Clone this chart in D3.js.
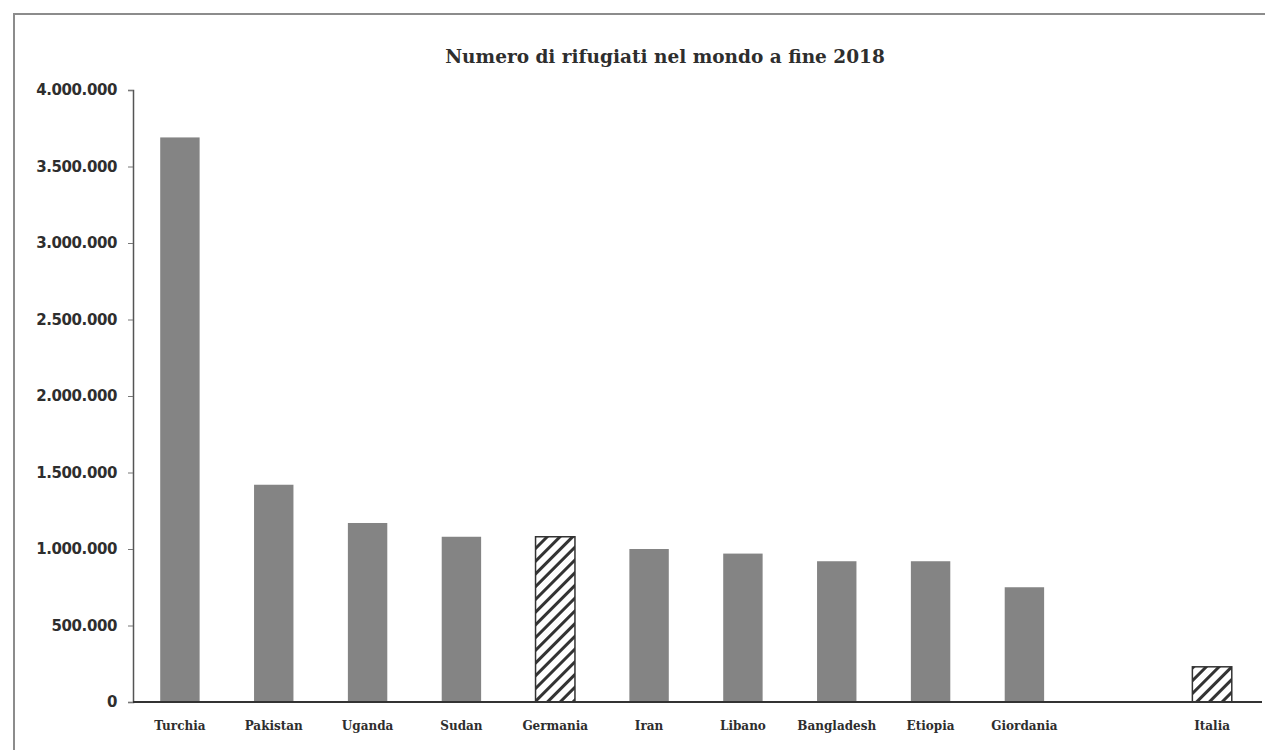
<!DOCTYPE html>
<html>
<head>
<meta charset="utf-8">
<script src="https://cdn.jsdelivr.net/npm/d3@7"></script>
<style>
  body { margin: 0; background: #fff; }
  svg { display: block; }
</style>
</head>
<body>
<svg id="chart" width="1265" height="750"></svg>
<script>
const TITLE = "Numero di rifugiati nel mondo a fine 2018";
const countries = ["Turchia", "Pakistan", "Uganda", "Sudan", "Germania", "Iran", "Libano", "Bangladesh", "Etiopia", "Giordania", "", "Italia"];
const refugees = [3690000, 1420000, 1170000, 1080000, 1080000, 1000000, 970000, 920000, 920000, 750000, null, 230000];
const hatched = ["Germania", "Italia"];
const yTicks = [0, 500000, 1000000, 1500000, 2000000, 2500000, 3000000, 3500000, 4000000];

const LEFT = 133;
const RIGHT = 1262;
const TOP = 90;
const BOTTOM = 702;

const BAR = "#848484";
const INK = "#2e2e2e";

const svg = d3.select("#chart");

// hatch pattern for the two highlighted bars
const defs = svg.append("defs");
const pat = defs.append("pattern")
  .attr("id", "hatch")
  .attr("patternUnits", "userSpaceOnUse")
  .attr("width", 9)
  .attr("height", 9)
  .attr("patternTransform", "rotate(45)");
pat.append("rect").attr("width", 9).attr("height", 9).attr("fill", "#fff");
pat.append("rect").attr("width", 3).attr("height", 9).attr("fill", "#333");

// outer frame (edge of the scanned page)
svg.append("rect")
  .attr("x", 14).attr("y", 14)
  .attr("width", 1280).attr("height", 760)
  .attr("fill", "none")
  .attr("stroke", "#8c8c8c")
  .attr("stroke-width", 2);

svg.append("text")
  .attr("x", 665)
  .attr("y", 63)
  .attr("text-anchor", "middle")
  .style("font-family", "'DejaVu Serif', serif")
  .style("font-weight", "bold")
  .style("font-size", "18.5px")
  .style("fill", INK)
  .text(TITLE);

const xScale = d3.scaleBand()
  .domain(countries.map((d, i) => i))
  .range([LEFT, 1259])
  .paddingInner(0.58)
  .paddingOuter(0.29);

const yScale = d3.scaleLinear()
  .domain([0, 4000000])
  .range([BOTTOM, TOP]);

const fmt = (d) => d3.format(",")(d).replace(/,/g, ".");

const yAxis = svg.append("g")
  .attr("transform", `translate(${LEFT}, 0)`)
  .call(d3.axisLeft(yScale).tickValues(yTicks).tickSize(5).tickPadding(11).tickFormat(fmt));
yAxis.select(".domain").attr("stroke", "#555").attr("stroke-width", 1.5);
yAxis.selectAll(".tick line").attr("stroke", "#777");
yAxis.selectAll("text")
  .style("font-family", "'DejaVu Sans', sans-serif")
  .style("font-weight", "bold")
  .style("font-size", "15px")
  .style("letter-spacing", "-0.4px")
  .style("fill", INK);

svg.selectAll(".bar")
  .data(countries.map((c, i) => ({ c, i, v: refugees[i] })).filter((d) => d.v != null))
  .enter()
  .append("rect")
  .attr("class", "bar")
  .attr("x", (d) => xScale(d.i))
  .attr("width", xScale.bandwidth())
  .attr("y", (d) => yScale(d.v))
  .attr("height", (d) => BOTTOM - yScale(d.v))
  .attr("fill", (d) => (hatched.includes(d.c) ? "url(#hatch)" : BAR))
  .attr("stroke", (d) => (hatched.includes(d.c) ? "#333" : "none"))
  .attr("stroke-width", 1.5);

const xAxis = svg.append("g")
  .attr("transform", `translate(0, ${BOTTOM})`)
  .call(d3.axisBottom(xScale).tickSize(0).tickPadding(19).tickFormat((i) => countries[i]));
xAxis.select(".domain").attr("d", `M${LEFT},0H${RIGHT}`).attr("stroke", "#333").attr("stroke-width", 2);
xAxis.selectAll("text")
  .style("font-family", "'DejaVu Serif', serif")
  .style("font-weight", "bold")
  .style("font-size", "12px")
  .style("fill", INK);
</script>
</body>
</html>
